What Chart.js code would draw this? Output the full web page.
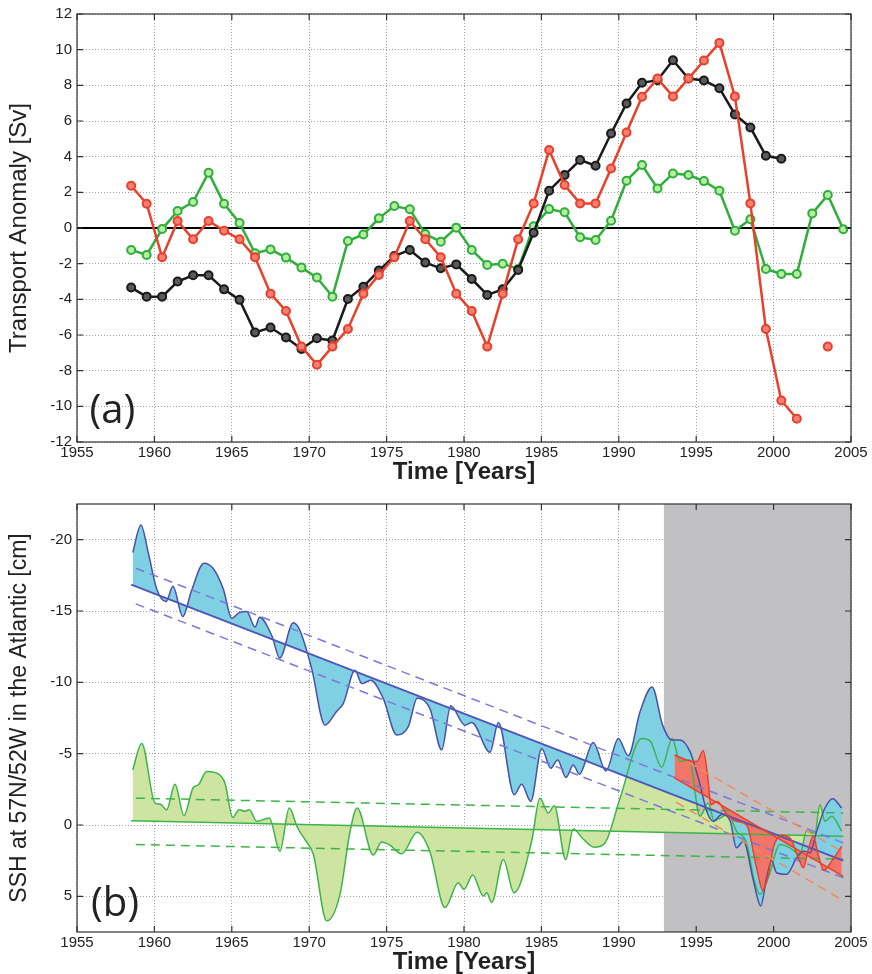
<!DOCTYPE html>
<html>
<head>
<meta charset="utf-8">
<title>Transport anomaly and SSH</title>
<script src="https://cdn.jsdelivr.net/npm/chart.js@4.4.1/dist/chart.umd.min.js"></script>
<style>
  body { margin: 0; background: #fff; }
  canvas { display: block; }
</style>
</head>
<body>
<canvas id="topChart" width="872" height="490"></canvas>
<canvas id="bottomChart" width="872" height="484"></canvas>
<script>
// ---- panel (a): transport anomaly [Sv], yearly values ----
var years = [1958.5, 1959.5, 1960.5, 1961.5, 1962.5, 1963.5, 1964.5, 1965.5, 1966.5, 1967.5,
             1968.5, 1969.5, 1970.5, 1971.5, 1972.5, 1973.5, 1974.5, 1975.5, 1976.5, 1977.5,
             1978.5, 1979.5, 1980.5, 1981.5, 1982.5, 1983.5, 1984.5, 1985.5, 1986.5, 1987.5,
             1988.5, 1989.5, 1990.5, 1991.5, 1992.5, 1993.5, 1994.5, 1995.5, 1996.5, 1997.5,
             1998.5, 1999.5, 2000.5, 2001.5, 2002.5, 2003.5, 2004.5];
var blackSv = [-3.34, -3.85, -3.85, -3.0, -2.65, -2.65, -3.44, -4.03, -5.86, -5.58,
               -6.14, -6.78, -6.18, -6.31, -3.98, -3.29, -2.39, -1.57, -1.23, -1.94,
               -2.26, -2.04, -2.86, -3.75, -3.44, -2.35, -0.26, 2.09, 2.97, 3.81,
               3.49, 5.3, 6.98, 8.14, 8.29, 9.41, 8.38, 8.27, 7.84, 6.37,
               5.64, 4.05, 3.88, null, null, null, null];
var redSv = [2.37, 1.36, -1.64, 0.39, -0.63, 0.39, -0.15, -0.63, -1.64, -3.68,
             -4.65, -6.65, -7.67, -6.65, -5.66, -3.68, -2.63, -1.64, 0.39, -0.63,
             -1.64, -3.68, -4.65, -6.65, -3.68, -0.63, 1.38, 4.37, 2.41, 1.38,
             1.38, 3.34, 5.36, 7.36, 8.38, 7.38, 8.38, 9.39, 10.38, 7.38,
             1.38, -5.66, -9.67, -10.7, null, -6.65, null];
var greenSv = [-1.23, -1.51, -0.06, 0.95, 1.46, 3.1, 1.36, 0.28, -1.42, -1.2,
               -1.66, -2.22, -2.78, -3.85, -0.73, -0.36, 0.54, 1.23, 1.05, -0.34,
               -0.77, 0.02, -1.23, -2.07, -2.0, -2.3, 0.1, 1.06, 0.88, -0.52,
               -0.67, 0.41, 2.65, 3.53, 2.22, 3.06, 2.97, 2.63, 2.09, -0.15,
               0.49, -2.3, -2.58, -2.58, 0.82, 1.85, -0.07];
var zeroLineX = [1955, 2005];
var zeroLineY = [0, 0];

// ---- panel (b): SSH at 57N/52W [cm] ----
var sshTicks = [-20, -15, -10, -5, 0, 5];
var blueX = [1958.6, 1959.13, 1959.6, 1960.15, 1960.75, 1961.2, 1961.83, 1962.4, 1963.2, 1963.8,
             1964.45, 1965.0, 1965.45, 1965.96, 1966.5, 1966.8, 1967.58, 1968.1, 1968.97, 1969.4,
             1970.16, 1971.02, 1971.78, 1972.2, 1972.96, 1973.4, 1973.97, 1974.79, 1975.65, 1976.4,
             1976.98, 1977.8, 1978.56, 1979.14, 1980.06, 1980.5, 1981.68, 1982.22, 1983.25, 1983.72,
             1984.31, 1985.02, 1985.6, 1986.05, 1986.59, 1987.06, 1987.45, 1988.35, 1989.17, 1989.97,
             1990.61, 1991.37, 1992.15, 1992.83, 1993.42, 1993.95, 1994.6, 1995.25, 1995.68, 1996.1,
             1996.65, 1997.2, 1997.6, 1998.05, 1998.7, 1999.17, 1999.55, 1999.87, 2000.2, 2000.84,
             2001.49, 2001.92, 2002.35, 2002.78, 2003.32, 2003.82, 2004.4];
var blueY = [-19.1, -21.03, -19.1, -16.54, -15.66, -16.73, -14.61, -16.43, -18.35, -17.98,
             -16.54, -14.49, -14.87, -14.96, -13.87, -14.56, -13.28, -11.7, -14.17, -13.63,
             -10.96, -7.0, -7.98, -8.51, -10.84, -9.91, -10.14, -8.86, -6.31, -6.89,
             -8.91, -8.16, -5.26, -8.35, -7.0, -7.19, -5.1, -7.19, -2.12, -2.86,
             -1.65, -5.37, -3.98, -4.56, -3.33, -4.21, -3.56, -5.79, -3.79, -6.07,
             -4.86, -7.93, -9.68, -7.0, -5.96, -5.96, -5.14, -2.82, -0.96, -0.26,
             -0.73, -0.26, 1.6, 1.14, 3.93, 5.67, 3.7, 2.53, 3.35, 3.46,
             2.3, 1.84, 1.95, 0.44, -1.19, -1.84, -1.19];
var greenX = [1958.6, 1959.18, 1960.04, 1960.36, 1960.79, 1961.33, 1961.91, 1962.51, 1962.84, 1963.38,
              1964.13, 1964.56, 1965.06, 1965.47, 1965.85, 1966.13, 1966.61, 1967.42, 1968.11, 1968.71,
              1969.23, 1969.73, 1970.27, 1971.13, 1971.99, 1972.64, 1973.1, 1974.14, 1974.68, 1975.22,
              1975.97, 1976.98, 1977.8, 1978.77, 1979.63, 1980.0, 1980.56, 1981.25, 1981.47, 1981.79,
              1982.54, 1983.23, 1984.37, 1984.9, 1985.44, 1985.83, 1986.57, 1987.06, 1987.67, 1988.42,
              1989.11, 1990.08, 1991.48, 1992.02, 1992.77, 1993.45, 1993.95, 1994.55, 1995.24, 1995.78,
              1996.15, 1997.07, 1997.61, 1998.26, 1998.73, 1999.12, 1999.66, 2000.41, 2001.06, 2001.7,
              2002.13, 2002.67, 2002.99, 2003.32, 2003.75, 2004.4];
var greenY = [-3.87, -5.72, -1.54, -1.47, -1.07, -2.86, -0.65, -2.63, -2.82, -3.75,
              -3.58, -2.93, -0.54, -1.07, -0.96, -1.07, -0.26, -0.49, 1.84, -1.19,
              0.16, 1.02, 2.07, 6.72, 4.86, 0.44, -1.19, 2.11, 1.19, 1.42,
              2.02, 0.51, 1.88, 5.79, 4.05, 4.51, 3.51, 4.98, 4.75, 5.44,
              2.42, 4.75, 1.14, -1.88, -0.84, -1.35, 2.42, 0.28, 0.95, 1.56,
              1.26, -1.88, -6.07, -5.9, -4.04, -6.07, -4.45, -4.56, -0.61, -1.54,
              -0.31, -0.73, 0.44, 1.26, 3.81, 4.86, 3.7, 1.37, 1.6, 2.07,
              0.44, 0.56, -1.42, -0.26, -0.61, 0.44];
var redX = [1993.6, 1994.38, 1995.03, 1995.46, 1995.78, 1995.94, 1996.36, 1997.01, 1997.61, 1998.26,
            1998.9, 1999.29, 1999.66, 1999.98, 2000.52, 2001.06, 2001.6, 2001.92, 2002.24, 2002.56,
            2002.88, 2003.25, 2003.75, 2004.4];
var redY = [-4.91, -4.56, -4.45, -5.2, -3.05, -1.42, -1.65, -0.68, -0.26, 0.0,
            3.0, 4.58, 3.46, 1.6, 0.72, 0.91, 2.3, 3.0, 1.72, 0.79,
            2.07, 3.18, 2.53, 1.5];

// linear trends and their bands (end points)
var blueTrendX = [1958.5, 2004.5], blueTrendY = [-16.85, 2.5];
var blueBandX = [1958.8, 2004.5], blueUpperY = [-18.0, 1.25], blueLowerY = [-15.5, 3.7];
var greenTrendX = [1958.5, 2004.5], greenTrendY = [-0.3, 0.78];
var greenBandX = [1958.8, 2004.5], greenUpperY = [-1.88, -0.84], greenLowerY = [1.37, 2.4];
var redTrendX = [1993.6, 2004.5], redTrendY = [-3.3, 3.6];
var redUpperX = [1994.5, 2004.5], redUpperY = [-4.4, 1.9];
var redLowerX = [1993.7, 2004.5], redLowerY = [-1.6, 5.3];
var grayX = [1992.9, 2005];
var grayY = [-22.5, -22.5];

function pts(xs, ys) {
  return xs.map(function (x, i) { return { x: x, y: ys[i] }; });
}

Chart.defaults.font.family = "'Liberation Sans', Arial, sans-serif";
Chart.defaults.color = '#222';

// box around the plot, inner tick marks and the panel letter
var framePlugin = {
  id: 'frame',
  afterDraw: function (chart, args, opts) {
    var a = chart.chartArea, ctx = chart.ctx;
    var xs = chart.scales.x, ys = chart.scales.y;
    ctx.save();
    ctx.strokeStyle = '#333';
    ctx.lineWidth = 1.2;
    ctx.beginPath();
    xs.ticks.forEach(function (t) {
      var px = xs.getPixelForValue(t.value);
      ctx.moveTo(px, a.bottom); ctx.lineTo(px, a.bottom - 6);
      ctx.moveTo(px, a.top); ctx.lineTo(px, a.top + 6);
    });
    ys.ticks.forEach(function (t) {
      var py = ys.getPixelForValue(t.value);
      ctx.moveTo(a.left, py); ctx.lineTo(a.left + 6, py);
      ctx.moveTo(a.right, py); ctx.lineTo(a.right - 6, py);
    });
    ctx.stroke();
    ctx.strokeRect(a.left, a.top, a.right - a.left, a.bottom - a.top);
    ctx.font = '40px "Open Sans", "DejaVu Sans", sans-serif';
    ctx.fillStyle = '#222';
    ctx.textBaseline = 'middle';
    ctx.fillText(opts.text, xs.getPixelForValue(opts.x), ys.getPixelForValue(opts.y));
    ctx.restore();
  }
};

function gridAxis() {
  return { color: '#a0a0a0', lineWidth: 1, drawTicks: false };
}

// ---------------- top chart ----------------
function topSeries(vals, line, fill, order) {
  return {
    data: pts(years, vals),
    borderColor: line,
    backgroundColor: fill,
    pointBackgroundColor: fill,
    pointBorderColor: line,
    pointRadius: 4,
    pointBorderWidth: 2,
    borderWidth: 2.5,
    tension: 0,
    spanGaps: false,
    order: order
  };
}

new Chart(document.getElementById('topChart'), {
  type: 'line',
  data: {
    datasets: [
      topSeries(redSv, '#e8402a', '#f47f72', 1),
      topSeries(blackSv, '#1a1a1a', '#5a5a5a', 2),
      topSeries(greenSv, '#2fae3c', '#b6eda0', 3),
      { data: pts(zeroLineX, zeroLineY), borderColor: '#000', borderWidth: 2, pointRadius: 0, order: 4 }
    ]
  },
  options: {
    responsive: false,
    animation: false,
    layout: { padding: { top: 14, right: 21, left: 0, bottom: 0 } },
    plugins: {
      legend: { display: false },
      tooltip: { enabled: false },
      frame: { text: '(a)', x: 1955.8, y: -10.3 }
    },
    scales: {
      x: {
        type: 'linear', min: 1955, max: 2005,
        ticks: { stepSize: 5, padding: 2, maxRotation: 0, autoSkip: false, font: { size: 15 }, callback: function (v) { return String(v); } },
        grid: gridAxis(),
        border: { display: false, dash: [1, 2] },
        title: { display: true, text: 'Time [Years]', font: { size: 24, weight: 'bold' }, padding: { top: 0, bottom: 3 } },
        afterFit: function (s) { s.height = 48; }
      },
      y: {
        min: -12, max: 12,
        ticks: { stepSize: 2, padding: 5, font: { size: 15 } },
        grid: gridAxis(),
        border: { display: false, dash: [1, 2] },
        title: { display: true, text: 'Transport Anomaly [Sv]', font: { size: 24, lineHeight: 1 }, padding: { top: 7, bottom: 0 } },
        afterFit: function (s) { s.width = 77; }
      }
    }
  },
  plugins: [framePlugin]
});

// ---------------- bottom chart ----------------
function band(xs, ys, color, order, dashed, width) {
  return {
    data: pts(xs, ys), borderColor: color, borderWidth: width || 1.5,
    borderDash: dashed ? [9, 6] : [], pointRadius: 0, fill: false, order: order
  };
}
function curve(xs, ys, line, fill, target, order) {
  return {
    data: pts(xs, ys), borderColor: line, backgroundColor: fill, borderWidth: 1.5,
    pointRadius: 0, cubicInterpolationMode: 'monotone',
    fill: { target: target, above: fill, below: fill }, order: order
  };
}

new Chart(document.getElementById('bottomChart'), {
  type: 'line',
  data: {
    datasets: [
      { data: pts(grayX, grayY), borderWidth: 0, pointRadius: 0, backgroundColor: '#c1c1c3',
        fill: { value: 7.5 }, order: 20 },
      curve(greenX, greenY, '#3cb44a', '#cde5a0', 2, 12),
      band(greenTrendX, greenTrendY, '#3cb44a', 11, false, 1.5),
      band(greenBandX, greenUpperY, '#3cb44a', 11, true),
      band(greenBandX, greenLowerY, '#3cb44a', 11, true),
      curve(blueX, blueY, '#4a4fa8', '#80d0e4', 6, 9),
      band(blueTrendX, blueTrendY, '#4f55b8', 8, false, 1.8),
      band(blueBandX, blueUpperY, '#7b78d8', 8, true),
      band(blueBandX, blueLowerY, '#7b78d8', 8, true),
      curve(redX, redY, '#e8402a', '#f37468', 10, 6),
      band(redTrendX, redTrendY, '#e8402a', 5, false, 1.5),
      band(redUpperX, redUpperY, '#f48a5c', 5, true),
      band(redLowerX, redLowerY, '#f48a5c', 5, true)
    ]
  },
  options: {
    responsive: false,
    animation: false,
    layout: { padding: { top: 11, right: 21, left: 0, bottom: 0 } },
    plugins: {
      legend: { display: false },
      tooltip: { enabled: false },
      filler: { drawTime: 'beforeDatasetsDraw' },
      frame: { text: '(b)', x: 1955.9, y: 5.6 }
    },
    scales: {
      x: {
        type: 'linear', min: 1955, max: 2005,
        ticks: { stepSize: 5, padding: 2, maxRotation: 0, autoSkip: false, font: { size: 15 }, callback: function (v) { return String(v); } },
        grid: gridAxis(),
        border: { display: false, dash: [1, 2] },
        title: { display: true, text: 'Time [Years]', font: { size: 24, weight: 'bold', lineHeight: 1 }, padding: { top: 0, bottom: 0 } },
        afterFit: function (s) { s.height = 42; }
      },
      y: {
        reverse: true, min: -22.5, max: 7.5,
        ticks: { padding: 5, font: { size: 15 } },
        afterBuildTicks: function (s) { s.ticks = sshTicks.map(function (v) { return { value: v }; }); },
        grid: gridAxis(),
        border: { display: false, dash: [1, 2] },
        title: { display: true, text: 'SSH at 57N/52W in the Atlantic [cm]', font: { size: 23, lineHeight: 1 }, padding: { top: 8, bottom: 0 } },
        afterFit: function (s) { s.width = 77; }
      }
    }
  },
  plugins: [framePlugin]
});
</script>
</body>
</html>
